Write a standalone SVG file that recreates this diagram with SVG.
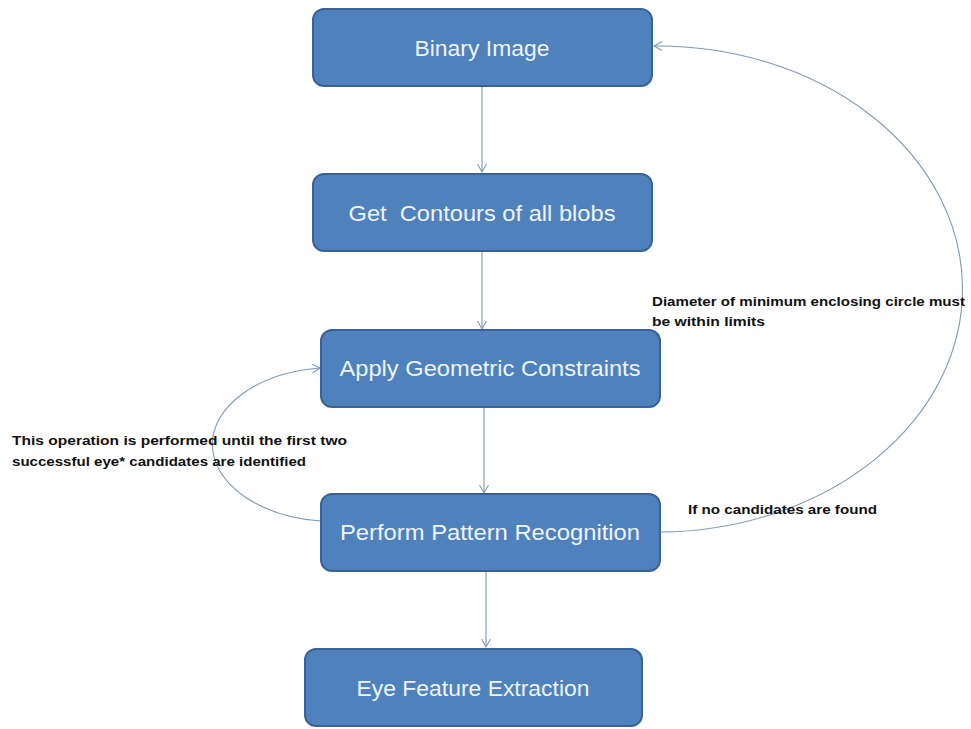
<svg xmlns="http://www.w3.org/2000/svg" width="971" height="729" viewBox="0 0 971 729">
  <style>
    .box { fill: #4f81bd; stroke: #3a629a; stroke-width: 2; }
    .btxt { font-family: "Liberation Sans", Arial, sans-serif; font-size: 22px; fill: #eef4fb; text-anchor: middle; }
    .note { font-family: "Liberation Sans", Arial, sans-serif; font-size: 13.5px; font-weight: bold; fill: #111; }
    .conn { fill: none; stroke: #7f98b4; stroke-width: 1.1; }
  </style>
  <defs>
    <marker id="open" markerWidth="12" markerHeight="12" refX="9" refY="5" orient="auto" markerUnits="userSpaceOnUse">
      <path d="M1,0.5 L9,5 L1,9.5" fill="none" stroke="#7f98b4" stroke-width="1.1"/>
    </marker>
  </defs>
  <rect width="971" height="729" fill="#ffffff"/>

  <g id="connectors">
    <line class="conn" x1="482" y1="87" x2="482" y2="172" marker-end="url(#open)"/>
    <line class="conn" x1="482" y1="252" x2="482" y2="329" marker-end="url(#open)"/>
    <line class="conn" x1="484" y1="408" x2="484" y2="493" marker-end="url(#open)"/>
    <line class="conn" x1="486" y1="572" x2="486" y2="647" marker-end="url(#open)"/>
    <!-- feedback loop: no candidates found, back to the binary image -->
    <path class="conn" d="M661,532 A305,243 0 0 0 654,46" marker-end="url(#open)"/>
    <!-- repeat loop around geometric constraints -->
    <path class="conn" d="M321,521 A122,77 0 0 1 320,368" marker-end="url(#open)"/>
  </g>

  <g id="binary-image">
    <rect class="box" x="313" y="9" width="339" height="77" rx="11"/>
    <text class="btxt" x="482" y="56" textLength="135" lengthAdjust="spacingAndGlyphs">Binary Image</text>
  </g>
  <g id="get-contours">
    <rect class="box" x="313" y="174" width="339" height="77" rx="11"/>
    <text class="btxt" x="482" y="221" textLength="267" lengthAdjust="spacingAndGlyphs" xml:space="preserve">Get  Contours of all blobs</text>
  </g>
  <g id="geometric-constraints">
    <rect class="box" x="321" y="330" width="339" height="77" rx="11"/>
    <text class="btxt" x="490" y="376" textLength="301" lengthAdjust="spacingAndGlyphs">Apply Geometric Constraints</text>
  </g>
  <g id="pattern-recognition">
    <rect class="box" x="321" y="494" width="339" height="77" rx="11"/>
    <text class="btxt" x="490" y="540" textLength="300" lengthAdjust="spacingAndGlyphs">Perform Pattern Recognition</text>
  </g>
  <g id="feature-extraction">
    <rect class="box" x="305" y="649" width="337" height="77" rx="11"/>
    <text class="btxt" x="473" y="696" textLength="233" lengthAdjust="spacingAndGlyphs">Eye Feature Extraction</text>
  </g>

  <g id="labels">
    <text class="note" x="652" y="306" textLength="313" lengthAdjust="spacingAndGlyphs">Diameter of minimum enclosing circle must</text>
    <text class="note" x="652" y="326" textLength="113" lengthAdjust="spacingAndGlyphs">be within limits</text>
    <text class="note" x="12" y="445" textLength="335" lengthAdjust="spacingAndGlyphs">This operation is performed until the first two</text>
    <text class="note" x="12" y="466" textLength="294" lengthAdjust="spacingAndGlyphs">successful eye* candidates are identified</text>
    <text class="note" x="688" y="514" textLength="189" lengthAdjust="spacingAndGlyphs">If no candidates are found</text>
  </g>
</svg>
